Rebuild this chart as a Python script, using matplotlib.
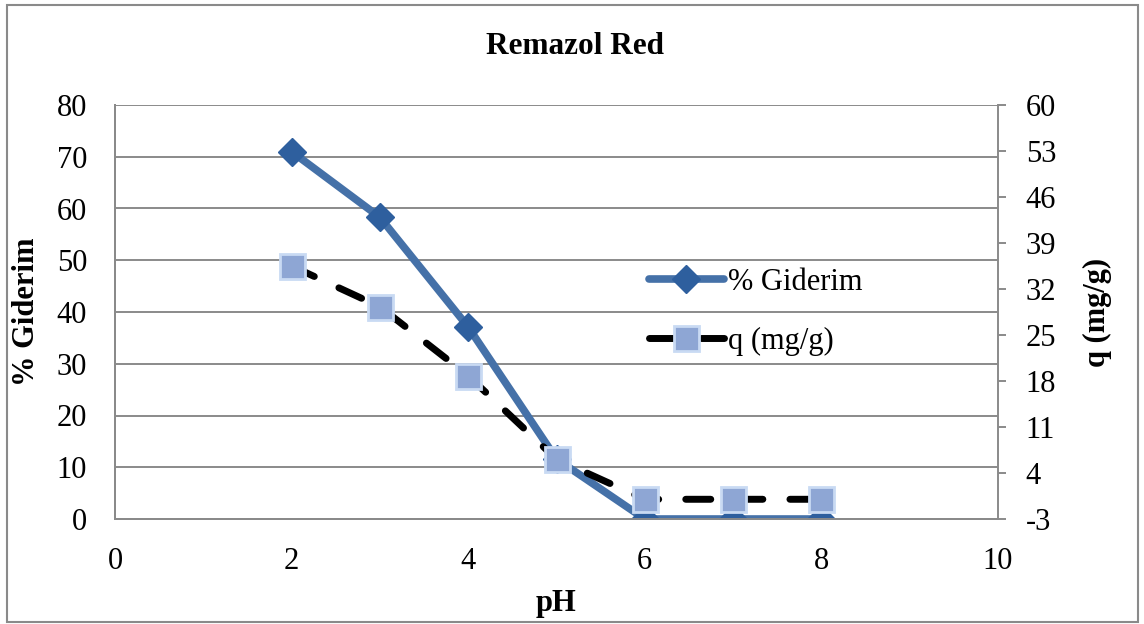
import matplotlib.pyplot as plt
from matplotlib.patches import Rectangle

plt.rcParams['font.family'] = ['Liberation Serif', 'DejaVu Serif']
plt.rcParams['axes.unicode_minus'] = False

ph = [2, 3, 4, 5, 6, 7, 8]
giderim = [71.0, 58.3, 37.1, 11.6, 0, 0, 0]
q = [35.5, 29.3, 18.8, 6.1, 0.0, 0.0, 0.0]

left_ticks = [0, 10, 20, 30, 40, 50, 60, 70, 80]
right_ticks = [-3, 4, 11, 18, 25, 32, 39, 46, 53, 60]
x_ticks = [0, 2, 4, 6, 8, 10]

W, H = 1144, 624
fig = plt.figure(figsize=(W / 100, H / 100), dpi=100)
ax1 = fig.add_axes([115 / W, 1 - 519 / H, 883 / W, 414 / H])
ax2 = ax1.twinx()

grey = '#8a8a8a'

ax1.set_xlim(0, 10)
ax1.set_ylim(0, 80)
ax2.set_ylim(-3, 60)
ax1.set_xticks(x_ticks)
ax1.set_yticks(left_ticks)
ax2.set_yticks(right_ticks)

for y in left_ticks[1:]:
    ax1.axhline(y, color=grey, lw=1.4, zorder=0)

for ax in (ax1, ax2):
    for s in ax.spines.values():
        s.set_color(grey)
        s.set_linewidth(1.4)
    ax.spines['top'].set_visible(False)
ax1.spines['right'].set_visible(False)
ax1.tick_params(axis='y', length=0, labelsize=22, pad=20)
ax1.tick_params(axis='x', length=0, labelsize=22, pad=20)
ax2.tick_params(axis='y', direction='out', length=6, width=1.4, color=grey,
                labelsize=22, pad=14)

l1, = ax1.plot(ph, giderim, color='#4571a8', lw=5.5, marker='D', ms=14,
               mfc='#2e5f9e', mec='#2e5f9e', solid_capstyle='round',
               label='% Giderim', zorder=3)
ax2.set_zorder(ax1.get_zorder() + 1)
ax2.patch.set_visible(False)
l2, = ax2.plot(ph, q, color='black', lw=5, ls=(0, (3.6, 3.9)),
               dash_capstyle='round', marker='s', ms=18,
               mfc='#8ea6d4', mec='#c9daf3', mew=2, label='q (mg/g)',
               zorder=4)

# axis titles placed by hand, like the Excel original
fig.text(556 / W, 1 - 603 / H, 'pH', ha='center', va='center',
         fontsize=22, fontweight='bold')
fig.text(27 / W, 1 - 312 / H, '% Giderim', ha='center', va='center',
         rotation=90, fontsize=22, fontweight='bold')
fig.text(1097 / W, 1 - 312 / H, 'q (mg/g)', ha='center', va='center',
         rotation=90, fontsize=22, fontweight='bold')
fig.text(575 / W, 1 - 47 / H, 'Remazol Red', ha='center', va='center',
         fontsize=22.5, fontweight='bold')

fig.legend(handles=[l1, l2], loc='upper left',
           bbox_to_anchor=(649 / W, 1 - 268 / H), frameon=False,
           fontsize=22, handlelength=2.45, handletextpad=0.15,
           labelspacing=0.98, borderpad=0, borderaxespad=0)

fig.patches.append(Rectangle((7 / W, 2 / H), 1131 / W, 617 / H,
                             transform=fig.transFigure, fill=False,
                             edgecolor=grey, lw=1.5))

fig.savefig('out.png', dpi=100)
